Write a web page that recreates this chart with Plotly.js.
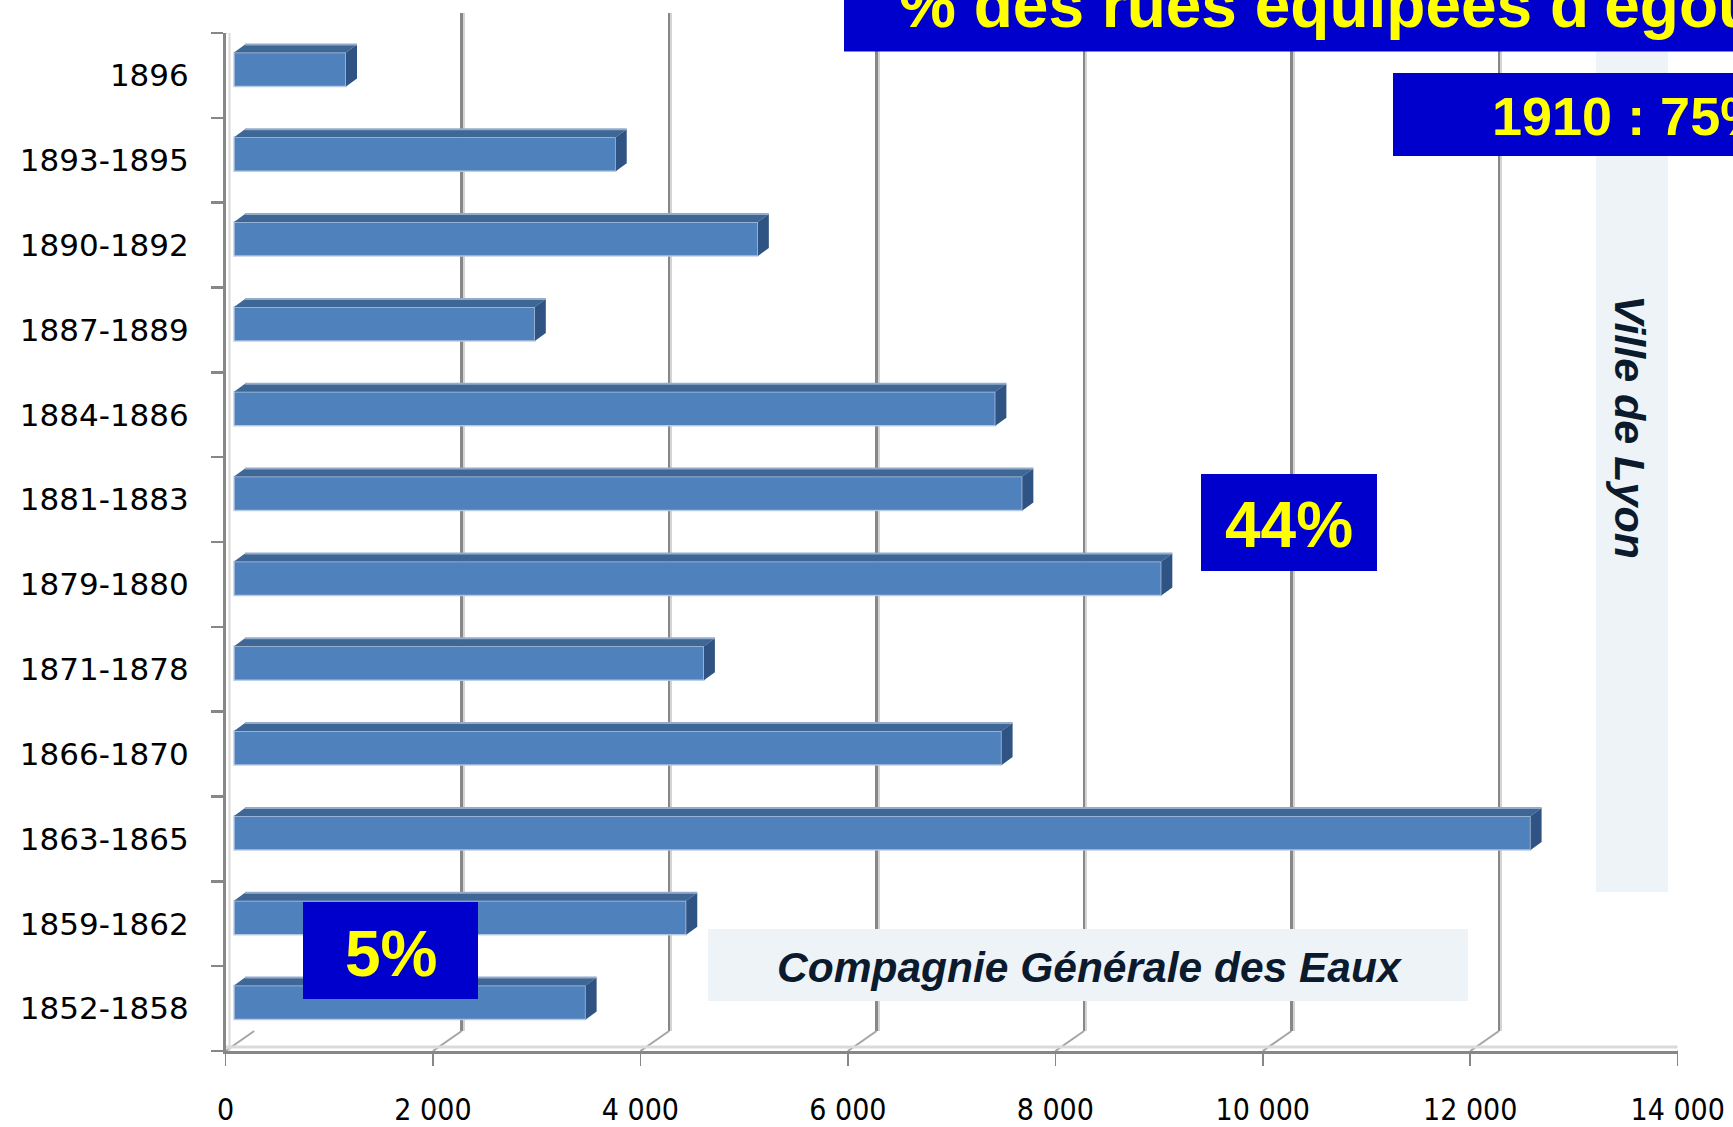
<!DOCTYPE html>
<html><head><meta charset="utf-8">
<script src="https://cdn.plot.ly/plotly-3.0.1.min.js"></script>
<style>html,body{margin:0;padding:0;background:#fff}</style>
</head><body><div id="chart" style="width:1733px;height:1127px"></div>
<script>
// ---- data (bottom to top) ----
const categories = ["1852-1858","1859-1862","1863-1865","1866-1870","1871-1878","1879-1880","1881-1883","1884-1886","1887-1889","1890-1892","1893-1895","1896"];
const values = [3390, 4360, 12500, 7400, 4530, 8940, 7600, 7340, 2900, 5050, 3680, 1080];
const xTickVals = [0, 2000, 4000, 6000, 8000, 10000, 12000, 14000];
const xTickText = ["0", "2 000", "4 000", "6 000", "8 000", "10 000", "12 000", "14 000"];
const titleText = "% des rues équipées d'égouts";
const noteTotal = "1910 : 75%";
const noteLyonPct = "44%";
const noteCgePct = "5%";
const labelCge = "Compagnie Générale des Eaux";
const labelLyon = "Ville de Lyon";

// ---- geometry (pixels) ----
const W = 1733, H = 1127;
const FX0 = 225.5, FX1 = 1677.7, FY0 = 33, FY1 = 1051;
const XMAX = 14000;
const nCat = categories.length;
const pxPerX = (FX1 - FX0) / XMAX;
const pxPerY = (FY1 - FY0) / nCat;
const DDX = 28.7, DDY = 20;           // wall depth
const BAR_SHIFT = 8.5;                // bar plane offset (px)
const BTOP = 23, BBOT = -11;          // bar front face relative to category centre (px, up)
const BDX = 11, BDY = 8;              // bar depth
const px = v => v / W, py = v => 1 - v / H;

const idx = categories.map((c, i) => i);
const bounds = categories.map((c, i) => i - 0.5).concat([nCat - 0.5]);

const dxu = BDX / pxPerX, dyu = BDY / pxPerY;
const topX = [], topY = [], sideX = [], sideY = [], hlX = [], hlY = [];
values.forEach((v, i) => {
  const yt = i + BTOP / pxPerY, yb = i + BBOT / pxPerY;
  topX.push(0, v, v + dxu, dxu, 0, null);
  topY.push(yt, yt, yt + dyu, yt + dyu, yt, null);
  sideX.push(v, v, v + dxu, v + dxu, v, null);
  sideY.push(yb, yt, yt + dyu, yb + dyu, yb, null);
  hlX.push(dxu, v + dxu, null);
  hlY.push(yt + dyu, yt + dyu, null);
});

const dummy = (xa, ya) => ({type:'scatter', x:[0], y:[0], xaxis:xa, yaxis:ya, mode:'markers',
  marker:{opacity:0}, hoverinfo:'skip', showlegend:false});

const traces = [
  dummy('x', 'y'), dummy('x2', 'y2'), dummy('x3', 'y3'),
  {type:'bar', orientation:'h', x:values, y:idx, xaxis:'x4', yaxis:'y3',
   width:(BTOP - BBOT) / pxPerY, offset:BBOT / pxPerY,
   marker:{color:'#4F81BD', line:{color:'rgba(185,203,228,0.9)', width:1.5}}, hoverinfo:'skip', showlegend:false},
  {type:'scatter', x:topX, y:topY, xaxis:'x4', yaxis:'y3', mode:'lines', fill:'toself',
   fillcolor:'#3E6796', line:{width:0, color:'#3E6796'}, hoverinfo:'skip', showlegend:false},
  {type:'scatter', x:sideX, y:sideY, xaxis:'x4', yaxis:'y3', mode:'lines', fill:'toself',
   fillcolor:'#2F5382', line:{width:0, color:'#2F5382'}, hoverinfo:'skip', showlegend:false},
  {type:'scatter', x:hlX, y:hlY, xaxis:'x4', yaxis:'y3', mode:'lines',
   line:{width:2, color:'#94ABCB'}, hoverinfo:'skip', showlegend:false}
];

const shapes = [];
xTickVals.forEach(t => {
  shapes.push({type:'line', layer:'below', xref:'x3', xsizemode:'pixel', xanchor:t, x0:0, x1:DDX,
    yref:'y3', ysizemode:'pixel', yanchor:-0.5, y0:0, y1:DDY, line:{color:'#A5A5A5', width:2}});
});
shapes.push({type:'line', layer:'below', xref:'x3', xsizemode:'pixel', xanchor:0, x0:0, x1:DDX,
  yref:'y3', ysizemode:'pixel', yanchor:nCat - 0.5, y0:0, y1:DDY, line:{color:'#A5A5A5', width:2}});
// light inner edges of wall and floor
shapes.push({type:'line', layer:'below', xref:'x3', xsizemode:'pixel', xanchor:0, x0:4, x1:4,
  yref:'y3', y0:-0.5, y1:nCat - 0.5, line:{color:'#DADADA', width:2}});
shapes.push({type:'line', layer:'below', xref:'x3', x0:0, x1:XMAX,
  yref:'y3', ysizemode:'pixel', yanchor:-0.5, y0:4, y1:4, line:{color:'#DADADA', width:3}});

const blue = '#0000CC', pale = '#EEF3F8';
function box(x0, y0, x1, y1, c) {
  return {type:'rect', layer:'above', xref:'paper', yref:'paper', x0:px(x0), x1:px(x1), y0:py(y1), y1:py(y0),
    fillcolor:c, line:{width:0}};
}
shapes.push(box(1596, -10, 1668, 892, pale));
shapes.push(box(708, 929, 1468, 1001, pale));
shapes.push(box(844, -10, 1760, 51.5, blue));
shapes.push(box(1393, 73, 1760, 156, blue));
shapes.push(box(1201, 474, 1377, 571, blue));
shapes.push(box(303, 902, 478, 999, blue));

const yellowFont = s => ({family:'Liberation Sans, Arial, sans-serif', size:s, color:'#FFFF00', weight:'bold'});
const darkFont = s => ({family:'Liberation Sans, Arial, sans-serif', size:s, color:'#0B1A2C', weight:'bold', style:'italic'});
const ann = (text, x, y, font, xanchor, extra) => Object.assign({text, x:px(x), y:py(y), xref:'paper', yref:'paper',
  xanchor, yanchor:'middle', showarrow:false, font}, extra || {});

const annotations = [
  ann('<b>' + titleText + '</b>', 897, 26.7 - 0.3465 * 64, yellowFont(64), 'left'),
  ann('<b>' + noteTotal + '</b>', 1490, 135 - 0.3465 * 54, yellowFont(54), 'left'),
  ann('<b>' + noteLyonPct + '</b>', 1289, 547 - 0.3465 * 64, yellowFont(64), 'center'),
  ann('<b>' + noteCgePct + '</b>', 391, 976 - 0.3465 * 64, yellowFont(64), 'center'),
  ann('<b><i>' + labelCge + '</i></b>', 1089.5, 982 - 0.3465 * 42.5, darkFont(42.5), 'center'),
  ann('<b><i>' + labelLyon + '</i></b>', 1614.8 + 0.3465 * 43, 427, darkFont(43), 'center', {textangle:90})
];

const backX = (shift, color, width) => ({domain:[(FX0 + DDX + shift) / W, (FX1 + DDX + shift) / W], range:[0, XMAX],
  showgrid:true, gridcolor:color, gridwidth:width, tickmode:'array', tickvals:xTickVals, showticklabels:false,
  ticks:'', zeroline:false, showline:false, fixedrange:true});
const backY = {domain:[py(FY1 - DDY), py(FY0 - DDY)], range:[-0.5, nCat - 0.5], showgrid:false,
  showticklabels:false, ticks:'', zeroline:false, showline:false, fixedrange:true};

const layout = {
  width:W, height:H, margin:{l:0, r:0, t:0, b:0, pad:0},
  paper_bgcolor:'#FFFFFF', plot_bgcolor:'rgba(0,0,0,0)', showlegend:false, bargap:0,
  xaxis:Object.assign(backX(2.2, '#D4D4D4', 2), {anchor:'y'}),
  yaxis:Object.assign({}, backY, {anchor:'x'}),
  xaxis2:Object.assign(backX(0, '#878787', 2.6), {anchor:'y2'}),
  yaxis2:Object.assign({}, backY, {anchor:'x2'}),
  xaxis3:{domain:[FX0 / W, FX1 / W], range:[0, XMAX], anchor:'y3', showline:true, linecolor:'#878787',
    linewidth:3, ticks:'outside', ticklen:12, tickwidth:1.5, tickcolor:'#878787', tickmode:'array',
    tickvals:xTickVals, ticktext:xTickText, ticklabelstandoff:18,
    tickfont:{family:'DejaVu Sans Condensed, DejaVu Sans, sans-serif', size:30, color:'#000'},
    showgrid:false, zeroline:false, fixedrange:true},
  yaxis3:{domain:[py(FY1), py(FY0)], range:[-0.5, nCat - 0.5], anchor:'x3', showline:true,
    linecolor:'#878787', linewidth:2.5, tickmode:'array', tickvals:idx, ticktext:categories, ticks:'',
    ticklabelstandoff:28, tickfont:{family:'DejaVu Sans, sans-serif', size:31, color:'#000'},
    minor:{tickmode:'array', tickvals:bounds, ticks:'outside', ticklen:12, tickwidth:2.5, tickcolor:'#878787', showgrid:false},
    showgrid:false, zeroline:false, fixedrange:true},
  xaxis4:{overlaying:'x3', anchor:'y3', range:[-BAR_SHIFT / pxPerX, XMAX - BAR_SHIFT / pxPerX], visible:false, fixedrange:true},
  shapes, annotations
};

Plotly.newPlot('chart', traces, layout, {staticPlot:true, displayModeBar:false});
</script></body></html>
